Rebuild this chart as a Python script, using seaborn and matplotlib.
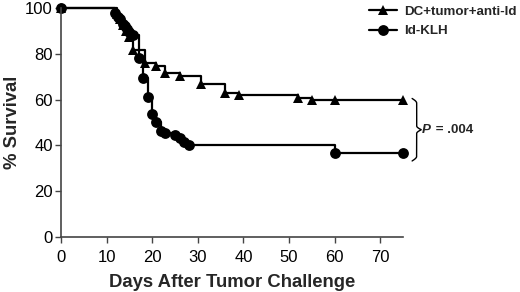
import numpy as np
import pandas as pd
import matplotlib
matplotlib.use("Agg")
import matplotlib.pyplot as plt
import seaborn as sns
from matplotlib.lines import Line2D

# ---- data ----
groups = ["DC+tumor+anti-Id", "Id-KLH"]
dc_days = [0, 12.3, 13, 13.7, 14.3, 15, 15.8, 18.4, 20.8, 22.8, 26, 30.8, 36, 39, 52, 55, 60, 75]
dc_surv = [100, 97.5, 95, 92.5, 90, 87.5, 81.5, 76, 74.5, 71.8, 70.2, 66.8, 63, 61.8, 60.8, 60, 60, 60]
id_days = [0, 11.8, 12.5, 13, 13.5, 14, 14.5, 15, 15.8, 17, 18, 19, 20, 20.8, 22, 22.8, 25, 26, 27, 28, 60, 75]
id_surv = [100, 97.8, 96, 95, 93, 92, 91, 89.5, 88, 78, 69.5, 61, 53.7, 50.4, 46.4, 45.4, 44.4, 43.4, 41.7, 40.2, 36.7, 36.7]
x_ticks = [0, 10, 20, 30, 40, 50, 60, 70]
y_ticks = [0, 20, 40, 60, 80, 100]
p_text = "= .004"

df = pd.concat([
    pd.DataFrame({"day": dc_days, "surv": dc_surv, "group": groups[0]}),
    pd.DataFrame({"day": id_days, "surv": id_surv, "group": groups[1]}),
])

sns.set_theme(style="ticks")
plt.rcParams["font.family"] = ["Liberation Sans", "DejaVu Sans"]

fig = plt.figure(figsize=(5.2, 2.92), dpi=100)
ax = fig.add_axes([61 / 520, 1 - 237 / 292, (403 - 61) / 520, (237 - 8) / 292])

markers = {groups[0]: "^", groups[1]: "o"}
msize = {groups[0]: 7.5, groups[1]: 7.8}
for g in groups:
    sub = df[df["group"] == g]
    sns.lineplot(data=sub, x="day", y="surv", ax=ax, color="black", lw=1.6,
                 drawstyle="steps-post", marker=markers[g], markersize=msize[g],
                 markeredgewidth=0, estimator=None, sort=False, clip_on=False,
                 legend=False)

ax.set_xlim(0, 75)
ax.set_ylim(0, 100)
ax.set_xticks(x_ticks)
ax.set_yticks(y_ticks)
ax.tick_params(axis="both", labelsize=12, length=4, width=1, color="#444444",
               pad=2, labelcolor="black")
ax.tick_params(axis="x", pad=5)
for s in ["top", "right"]:
    ax.spines[s].set_visible(False)
for s in ["left", "bottom"]:
    ax.spines[s].set_color("#444444")
    ax.spines[s].set_linewidth(1.2)

ax.set_xlabel("Days After Tumor Challenge", fontsize=13.3, fontweight="bold", labelpad=7)
ax.set_ylabel("% Survival", fontsize=13.3, fontweight="bold", labelpad=3)

# legend
handles = [Line2D([0], [0], color="black", lw=1.6, marker=markers[g],
                  markersize=msize[g], markeredgewidth=0) for g in groups]
leg = fig.legend(handles, groups, loc="upper left", bbox_to_anchor=(362 / 520, 1.005),
                 frameon=False, prop={"weight": "bold", "size": 9.6},
                 handlelength=2.1, handletextpad=0.55, labelspacing=0.55,
                 borderaxespad=0.1)

# curly brace between the final values
top = dc_surv[-1] + 0.5
bot = id_surv[-1] - 3.5
x0 = 77.0
w = 1.0
mid = (top + bot) / 2
def half(y_start, y_end):
    s = np.linspace(0, 1, 100)
    yy = y_start + (y_end - y_start) * s
    xx = x0 + w * np.sin(np.clip(s / 0.15, 0, 1) * np.pi / 2)
    tip = np.clip((s - 0.88) / 0.12, 0, 1)
    xx = xx + w * (1 - np.cos(tip * np.pi / 2))
    return xx, yy
xa, ya = half(top, mid)
xb, yb = half(bot, mid)
ax.plot(np.concatenate([xa, xb[::-1]]), np.concatenate([ya, yb[::-1]]),
        color="black", lw=1.0, clip_on=False)

ax.text(x0 + 2.2 * w, mid, "P", fontsize=9.6, fontweight="bold", style="italic",
        va="center", ha="left")
ax.text(x0 + 2.2 * w + 2.2, mid, " " + p_text, fontsize=9.6, fontweight="bold",
        va="center", ha="left")

fig.savefig("out.png", dpi=100)
